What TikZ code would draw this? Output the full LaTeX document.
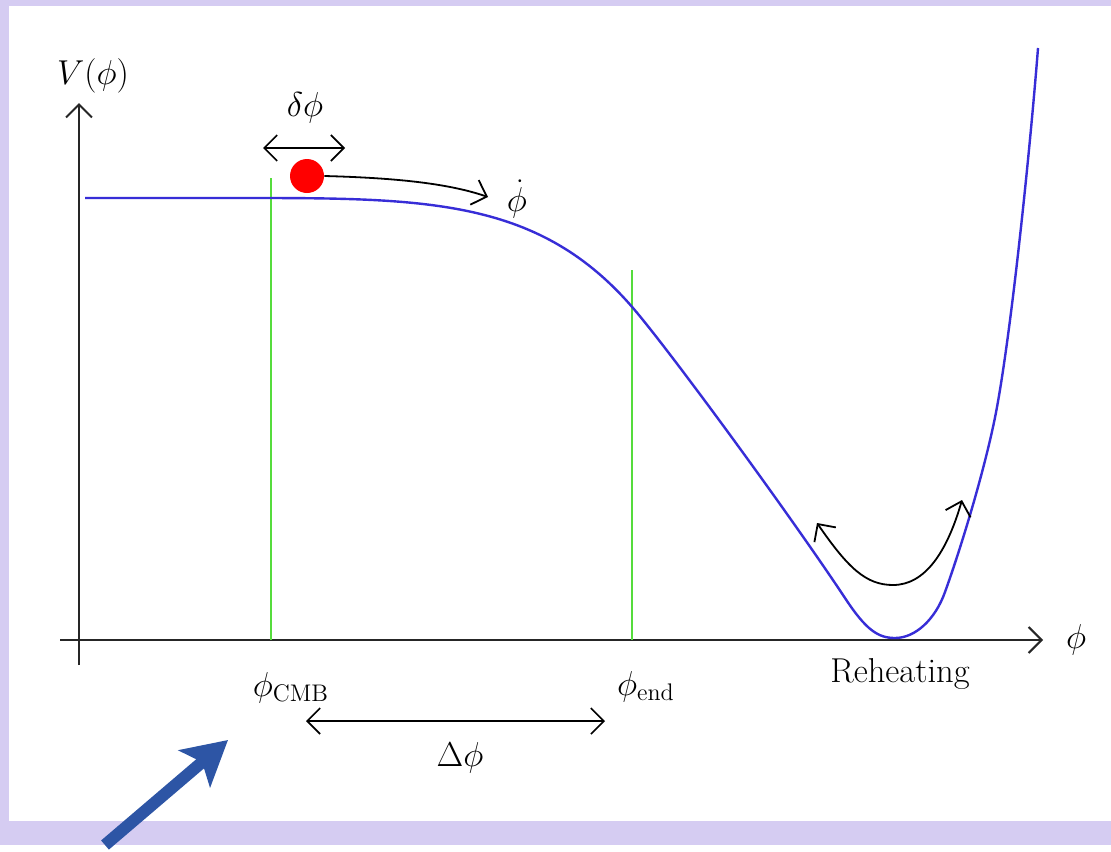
\documentclass[tikz,border=0pt]{standalone}
\usetikzlibrary{arrows.meta}
\definecolor{lavender}{RGB}{213,204,242}
\definecolor{curveblue}{RGB}{55,45,215}
\definecolor{markgreen}{RGB}{85,220,60}
\definecolor{pointerblue}{RGB}{45,85,165}

\begin{document}
\begin{tikzpicture}[
    x=0.5pt, y=-0.5pt,
    font=\fontsize{17.28}{21}\selectfont,
    >={Straight Barb[length=6.5pt,width=13pt]},
    axis/.style={->, line width=1pt, draw=black!85},
    potential/.style={line width=1.2pt, draw=curveblue},
    marker/.style={line width=1pt, draw=markgreen},
    span/.style={<->, line width=0.8pt},
    motion/.style={->, line width=0.9pt},
    ball/.style={circle, fill=red, minimum size=17pt, inner sep=0pt},
    pointer/.style={-{Stealth[length=22pt,width=24pt,inset=5pt]}, line width=6pt, draw=pointerblue}
]
\fill[lavender] (0,0) rectangle (1111,845);
\fill[white] (9,6) rectangle (1111,821);

\coordinate (ybot) at (79,665);
\coordinate (ytop) at (79,103);
\coordinate (xleft) at (60,640);
\coordinate (xright) at (1043,640);
\draw[axis] (ybot) -- (ytop);
\draw[axis] (xleft) -- (xright);
\node (vlabel) at (93,76) {$V(\phi)$};
\node (philabel) at (1076,640) {$\phi$};

\coordinate (cmbtop) at (271,178);
\coordinate (cmbbot) at (271,640);
\coordinate (endtop) at (632,270);
\coordinate (endbot) at (632,640);
\draw[marker] (cmbtop) -- (cmbbot);
\draw[marker] (endtop) -- (endbot);

\draw[potential] (85,198) -- (250,198)
    .. controls (430,198) and (540,200) .. (633,308)
    .. controls (670,351) and (790,515) .. (845,598)
    .. controls (866,630) and (878,638) .. (895,638)
    .. controls (915,638) and (935,620) .. (945,592)
    .. controls (962,545) and (987,462) .. (997,407)
    .. controls (1012,325) and (1030,150) .. (1038,48);

\node[ball] (inflaton) at (307,176) {};
\coordinate (kickl) at (263,148);
\coordinate (kickr) at (345,148);
\draw[span] (kickl) -- (kickr);
\node (dlabel) at (305,108) {$\delta\phi$};
\coordinate (rollend) at (488,197);
\draw[motion] (inflaton.east) .. controls (400,178) and (450,184) .. (rollend);
\node (vellabel) at (517,199) {$\dot\phi$};

\node (cmblabel) at (291,688) {$\phi_{\mathrm{CMB}}$};
\node (endlabel) at (646,687) {$\phi_{\mathrm{end}}$};
\coordinate (spanl) at (306,721);
\coordinate (spanr) at (605,721);
\draw[span] (spanl) -- (spanr);
\node (deltalabel) at (460,758) {$\Delta\phi$};

\coordinate (oscl) at (817,523);
\coordinate (oscb) at (893,585);
\coordinate (oscr) at (962,500);
\draw[span, line width=0.9pt] (oscl) .. controls (848,568) and (866,585) .. (oscb)
    .. controls (925,585) and (947,552) .. (oscr);
\node (reheat) at (900,674) {Reheating};

\coordinate (ptail) at (105,845);
\coordinate (ptip) at (228,740);
\draw[pointer] (ptail) -- (ptip);
\end{tikzpicture}
\end{document}
